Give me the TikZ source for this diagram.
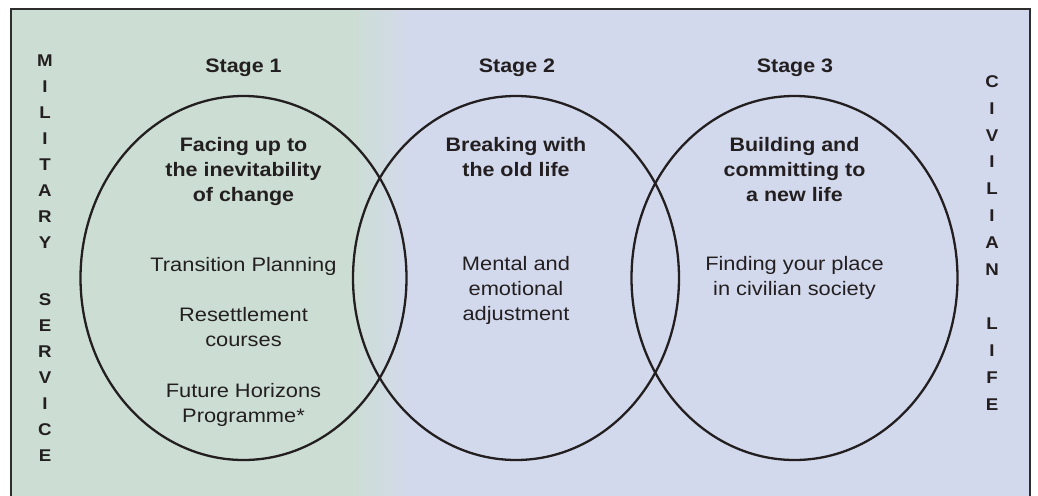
\documentclass[tikz,border=0pt]{standalone}
\usepackage{fontspec}
\setmainfont{Liberation Sans}[FakeStretch=1.12, BoldFeatures={FakeStretch=1.1}]
\usetikzlibrary{shapes.geometric}
\definecolor{ink}{RGB}{35,31,32}
\definecolor{armygreen}{RGB}{204,222,211}
\definecolor{civblue}{RGB}{211,217,236}
\definecolor{framegray}{RGB}{45,45,45}
\begin{document}
\begin{tikzpicture}[x=1pt,y=-1pt,
  stage/.style={font=\bfseries\fontsize{19.5}{25}\selectfont, text=ink, anchor=base, inner sep=0pt},
  heading/.style={font=\bfseries\fontsize{19.5}{25}\selectfont, text=ink, align=center, anchor=base, inner sep=0pt},
  detail/.style={font=\fontsize{19.5}{25}\selectfont, text=ink, align=center, anchor=base, inner sep=0pt},
  sideword/.style={text=ink, align=center, anchor=base, inner sep=0pt},
  stagering/.style={ellipse, draw=ink, line width=2.3pt, inner sep=0pt,
    minimum width=326pt, minimum height=364pt}]
\useasboundingbox (0,0) rectangle (1038,495);
\fill[white] (0,0) rectangle (1038,495);
% background: military green fading into civilian blue
\fill[armygreen] (11,9) rectangle (350,500);
\shade[left color=armygreen, right color=civblue] (349.5,9) rectangle (410.5,500);
\fill[civblue] (410,9) rectangle (1030,500);
\draw[framegray, line width=2.5pt] (11,500) -- (11,9) -- (1030,9) -- (1030,500);

% the three overlapping stages
\node[stagering] (ring1) at (243.5,278) {};
\node[stagering] (ring2) at (516,278) {};
\node[stagering] (ring3) at (794.5,278) {};

% multi-line nodes are placed by the baseline of their last line
\node[stage] (st1) at (243.5,73) {Stage 1};
\node[stage] (st2) at (517,73) {Stage 2};
\node[stage] (st3) at (795,73) {Stage 3};

\node[heading] (h1) at (243.5,201) {Facing up to\\the inevitability\\of change};
\node[heading] (h2) at (516,176) {Breaking with\\the old life};
\node[heading] (h3) at (794.5,201) {Building and\\committing to\\a new life};

\node[detail] (d1a) at (243.5,271) {Transition Planning};
\node[detail] (d1b) at (243.5,346) {Resettlement\\courses};
\node[detail] (d1c) at (243.5,422) {Future Horizons\\Programme*};
\node[detail] (d2) at (516,320) {Mental and\\emotional\\adjustment};
\node[detail] (d3) at (794.5,295) {Finding your place\\in civilian society};

% vertical side captions
\node[sideword, font=\bfseries\fontsize{17}{26}\selectfont] (mil) at (45,461)
  {M\\I\\L\\I\\T\\A\\R\\Y\\[31pt]S\\E\\R\\V\\I\\C\\E};
\node[sideword, font=\bfseries\fontsize{17}{26.9}\selectfont] (civ) at (992,410)
  {C\\I\\V\\I\\L\\I\\A\\N\\[26.9pt]L\\I\\F\\E};
\end{tikzpicture}
\end{document}
